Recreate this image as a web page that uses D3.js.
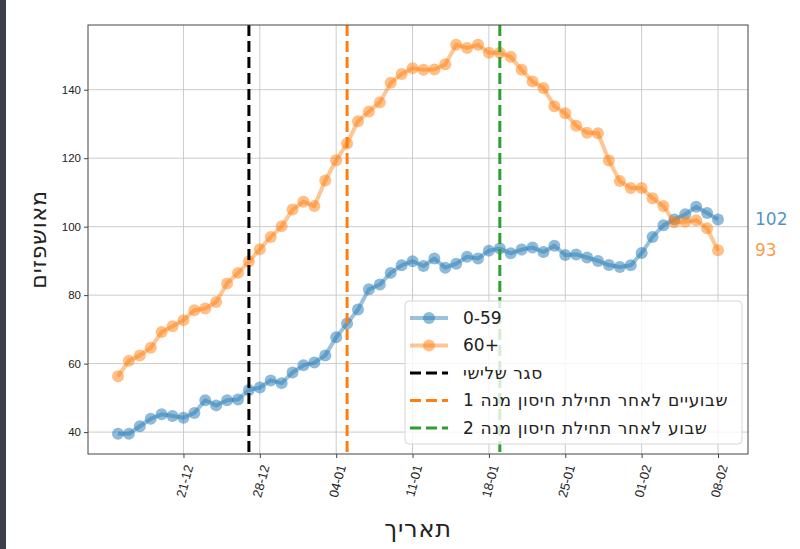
<!DOCTYPE html>
<html>
<head>
<meta charset="utf-8">
<script src="https://cdn.jsdelivr.net/npm/d3@7"></script>
<style>
  body { margin: 0; background: #fff; }
  svg { display: block; font-family: "DejaVu Sans", sans-serif; }
</style>
</head>
<body>
<div id="chart"></div>
<script>
// daily values, 15-12-2020 .. 08-02-2021
var firstDay = "2020-12-15";
var lastDay = "2021-02-08";
var young = [39.5, 39.5, 41.7, 43.9, 45.2, 44.7, 44.2, 45.6, 49.3, 47.8,
             49.3, 49.5, 52.3, 53.0, 55.1, 54.3, 57.4, 59.5, 60.3, 62.4,
             67.7, 71.7, 75.8, 81.7, 83.1, 86.5, 88.7, 89.9, 88.5, 90.7,
             88.0, 89.2, 91.2, 90.7, 93.0, 93.6, 92.2, 93.3, 93.9, 92.6,
             94.4, 91.7, 91.9, 91.0, 90.0, 88.8, 88.2, 88.7, 92.3, 97.0,
             100.4, 102.1, 103.6, 105.8, 104.0, 102.1];
var old = [56.3, 60.8, 62.4, 64.6, 69.2, 70.9, 72.7, 75.6, 76.1, 78.0,
           83.4, 86.5, 89.8, 93.4, 97.0, 100.1, 105.0, 107.3, 106.0, 113.5,
           119.4, 124.3, 130.8, 133.6, 136.3, 142.0, 144.6, 146.3, 145.8, 145.9,
           147.4, 153.1, 152.2, 153.1, 150.8, 150.8, 149.6, 145.8, 142.4, 140.5,
           135.2, 133.1, 129.5, 127.4, 127.3, 119.3, 113.3, 111.3, 111.3, 108.3,
           106.0, 101.3, 101.4, 101.9, 99.5, 93.1];
var seriesNames = ["0-59", "60+"];
var xTickDates = ["2020-12-21", "2020-12-28", "2021-01-04", "2021-01-11",
                  "2021-01-18", "2021-01-25", "2021-02-01", "2021-02-08"];
var yTicks = [40, 60, 80, 100, 120, 140];
var eventDates = ["2020-12-27", "2021-01-05", "2021-01-19"];
var eventNames = ["סגר שלישי", "שבועיים לאחר תחילת חיסון מנה 1", "שבוע לאחר תחילת חיסון מנה 2"];
var eventColors = ["#000000", "#ff7f0e", "#2ca02c"];
var seriesColors = ["#1f77b4", "#ff7f0e"];

var W = 800, H = 549;
var margin = {top: 25, right: 52, bottom: 95, left: 88};
var parse = d3.utcParse("%Y-%m-%d");
var days = d3.utcDay.range(parse(firstDay), d3.utcDay.offset(parse(lastDay), 1));
var series = [young, old];

var svg = d3.select("#chart").append("svg")
    .attr("width", W).attr("height", H);

// dark strip at the very left of the screenshot
svg.append("rect").attr("x", 0).attr("y", 0).attr("width", 6).attr("height", H).attr("fill", "#3b4048");

var pad = 55 * 0.05;
var x = d3.scaleUtc()
    .domain([d3.utcHour.offset(days[0], -pad * 24), d3.utcHour.offset(days[days.length - 1], pad * 24)])
    .range([margin.left, W - margin.right]);
var y = d3.scaleLinear()
    .domain([33.6, 158.9])
    .range([H - margin.bottom, margin.top]);

var g = svg.append("g");

// grid
g.selectAll(".gx").data(xTickDates).enter().append("line")
    .attr("x1", function(d) { return x(parse(d)); })
    .attr("x2", function(d) { return x(parse(d)); })
    .attr("y1", margin.top).attr("y2", H - margin.bottom)
    .attr("stroke", "#cbcbcb").attr("stroke-width", 1);
g.selectAll(".gy").data(yTicks).enter().append("line")
    .attr("x1", margin.left).attr("x2", W - margin.right)
    .attr("y1", function(d) { return y(d); })
    .attr("y2", function(d) { return y(d); })
    .attr("stroke", "#cbcbcb").attr("stroke-width", 1);

// axes
var fmt = d3.utcFormat("%d-%m");
var xAxis = svg.append("g")
    .attr("transform", "translate(0," + (H - margin.bottom) + ")")
    .call(d3.axisBottom(x).tickValues(xTickDates.map(parse)).tickFormat(fmt).tickSize(4).tickSizeOuter(0));
xAxis.selectAll("text")
    .style("font-size", "13px")
    .attr("fill", "#222")
    .attr("text-anchor", "end")
    .attr("dy", "0.35em")
    .attr("transform", "translate(5,11) rotate(-75)")
    .attr("y", 0).attr("x", 0);

var yAxis = svg.append("g")
    .attr("transform", "translate(" + margin.left + ",0)")
    .call(d3.axisLeft(y).tickValues(yTicks).tickSize(4).tickSizeOuter(0));
yAxis.selectAll("text").style("font-size", "11.5px").attr("fill", "#222");
svg.selectAll(".domain").remove();
svg.selectAll(".tick line").attr("stroke", "#444");

// lines and markers
var line = d3.line()
    .x(function(d, i) { return x(days[i]); })
    .y(function(d) { return y(d); });

series.forEach(function(vals, s) {
    g.append("path")
        .datum(vals)
        .attr("d", line)
        .attr("fill", "none")
        .attr("stroke", seriesColors[s])
        .attr("stroke-width", 4)
        .attr("stroke-opacity", 0.45)
        .attr("stroke-linejoin", "round");
    g.selectAll(".pt" + s).data(vals).enter().append("circle")
        .attr("cx", function(d, i) { return x(days[i]); })
        .attr("cy", function(d) { return y(d); })
        .attr("r", 6)
        .attr("fill", seriesColors[s])
        .attr("fill-opacity", 0.5);
});

// event lines
eventDates.forEach(function(d, i) {
    g.append("line")
        .attr("x1", x(parse(d))).attr("x2", x(parse(d)))
        .attr("y1", margin.top).attr("y2", H - margin.bottom)
        .attr("stroke", eventColors[i])
        .attr("stroke-width", 3)
        .attr("stroke-dasharray", "11,5");
});

// frame
svg.append("rect")
    .attr("x", margin.left).attr("y", margin.top)
    .attr("width", W - margin.left - margin.right)
    .attr("height", H - margin.top - margin.bottom)
    .attr("fill", "none").attr("stroke", "#444").attr("stroke-width", 1);

// end labels
series.forEach(function(vals, s) {
    svg.append("text")
        .attr("x", W - margin.right + 7)
        .attr("y", y(vals[vals.length - 1]))
        .attr("dy", "0.35em")
        .style("font-size", "17px")
        .attr("fill", seriesColors[s])
        .attr("fill-opacity", 0.8)
        .text(Math.round(vals[vals.length - 1]));
});

// legend
var lg = svg.append("g").attr("transform", "translate(405,301)");
lg.append("rect")
    .attr("width", 337).attr("height", 143).attr("rx", 4)
    .attr("fill", "#fff").attr("fill-opacity", 0.8)
    .attr("stroke", "#d6d6d6");
var rows = seriesNames.map(function(n, i) { return {name: n, color: seriesColors[i], type: "series"}; })
    .concat(eventNames.map(function(n, i) { return {name: n, color: eventColors[i], type: "event"}; }));
rows.forEach(function(r, i) {
    var ry = 17 + i * 27.5;
    if (r.type === "series") {
        lg.append("line").attr("x1", 5).attr("x2", 43).attr("y1", ry).attr("y2", ry)
            .attr("stroke", r.color).attr("stroke-width", 4).attr("stroke-opacity", 0.45);
        lg.append("circle").attr("cx", 24).attr("cy", ry).attr("r", 6)
            .attr("fill", r.color).attr("fill-opacity", 0.5);
        lg.append("text")
            .attr("x", 58).attr("y", ry).attr("dy", "0.35em")
            .style("font-size", "17px")
            .attr("fill", "#222")
            .text(r.name);
    } else {
        lg.append("line").attr("x1", 5).attr("x2", 43).attr("y1", ry).attr("y2", ry)
            .attr("stroke", r.color).attr("stroke-width", 3).attr("stroke-dasharray", "11,5");
        lg.append("text")
            .attr("x", 58).attr("y", ry).attr("dy", "0.35em")
            .attr("direction", "rtl")
            .attr("text-anchor", "end")
            .style("font-size", "17px")
            .style("letter-spacing", "0.6px")
            .attr("fill", "#222")
            .text(r.name);
    }
});

// axis titles
svg.append("text")
    .attr("transform", "translate(38," + (margin.top + (H - margin.top - margin.bottom) / 2) + ") rotate(-90)")
    .attr("text-anchor", "middle")
    .attr("dy", "0.35em")
    .style("font-size", "22px")
    .style("letter-spacing", "0.8px")
    .attr("fill", "#222")
    .text("מאושפזים");
svg.append("text")
    .attr("x", margin.left + (W - margin.left - margin.right) / 2)
    .attr("y", 529)
    .attr("text-anchor", "middle")
    .attr("dy", "0.35em")
    .style("font-size", "24px")
    .style("letter-spacing", "0.8px")
    .attr("fill", "#222")
    .text("תאריך");
</script>
</body>
</html>
